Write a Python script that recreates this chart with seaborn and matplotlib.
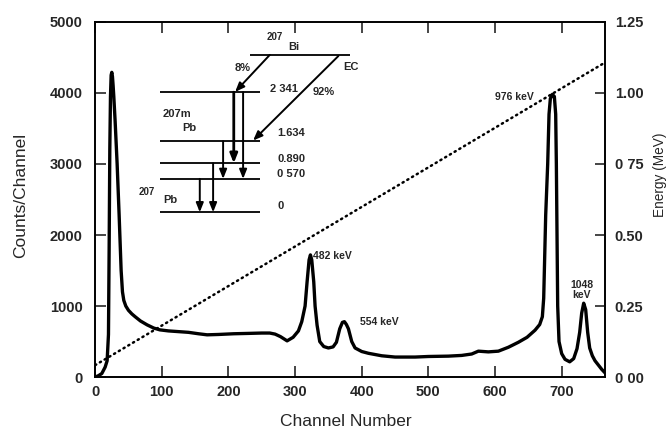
import matplotlib
matplotlib.use('Agg')
import matplotlib.pyplot as plt
import seaborn as sns

# spectrum
channel = [0, 5, 10, 15, 18, 20, 21, 22, 23, 24, 25, 26, 27, 28, 30, 33, 36, 39, 41, 43,
           46, 50, 55, 60, 68, 78, 88, 97, 110, 125, 140, 155, 168, 185, 208, 230, 250,
           262, 270, 278, 288, 297, 305, 310, 315, 318, 321, 323, 325, 328, 330, 333,
           337, 343, 350, 357, 362, 367, 371, 374, 377, 380, 385, 390, 400, 410, 430,
           450, 480, 500, 530, 550, 565, 575, 590, 605, 620, 635, 648, 660, 667, 671,
           673, 676, 679, 681, 683, 686, 689, 691, 692, 693, 694, 696, 700, 705, 712,
           718, 723, 727, 730, 733, 736, 739, 742, 746, 750, 755, 760, 765]
counts = [0, 20, 50, 140, 230, 600, 1800, 3200, 3950, 4250, 4290, 4230, 4100, 3950,
          3600, 3000, 2280, 1500, 1200, 1080, 1000, 940, 890, 850, 790, 735, 690, 665,
          650, 640, 630, 610, 595, 600, 610, 615, 620, 620, 605, 570, 510, 560, 650,
          780, 1000, 1340, 1650, 1720, 1650, 1340, 1000, 730, 500, 430, 410, 425, 490,
          680, 770, 780, 740, 680, 500, 410, 360, 335, 300, 282, 282, 290, 295, 305,
          325, 365, 355, 365, 420, 490, 560, 660, 740, 850, 1110, 2280, 3000, 3700,
          3920, 3980, 3950, 3700, 3000, 2000, 1000, 500, 330, 250, 215, 260, 400, 630,
          900, 1040, 950, 630, 410, 300, 230, 170, 110, 60]

# energy calibration (dotted line, right axis)
calib_channel = [0, 765]
calib_energy = [0.042, 1.107]

x_ticks = [0, 100, 200, 300, 400, 500, 600, 700]
count_ticks = [0, 1000, 2000, 3000, 4000, 5000]
energy_ticks = [0, 0.25, 0.5, 0.75, 1.0, 1.25]
energy_labels = ['0 00', '0.25', '0.50', '0 75', '1.00', '1.25']

peak_labels = ['482 keV', '554 keV', '976 keV', '1048\nkeV']
level_labels = ['2 341', '1.634', '0.890', '0 570', '0']

sns.set_style('ticks')
plt.rcParams['font.family'] = ['Liberation Sans', 'DejaVu Sans']

fig = plt.figure(figsize=(6.7, 4.29), dpi=100)
ax = fig.add_axes([0.142, 0.121, 0.761, 0.828])
ax2 = ax.twinx()

sns.lineplot(x=channel, y=counts, ax=ax, color='black', linewidth=2.4)
sns.lineplot(x=calib_channel, y=calib_energy, ax=ax2, color='black',
             linewidth=1.8, linestyle=(0, (0.5, 1.7)), dash_capstyle='round')

ax.set_xlim(0, 765)
ax.set_ylim(0, 5000)
ax2.set_ylim(0, 1.25)
ax.set_xticks(x_ticks)
ax.set_yticks(count_ticks)
ax2.set_yticks(energy_ticks)
ax2.set_yticklabels(energy_labels)

ax.tick_params(direction='in', length=8, width=1.2, labelsize=10.5, top=True)
ax.tick_params(axis='y', pad=9)
ax.tick_params(axis='x', pad=6)
ax2.tick_params(direction='in', length=7, width=1.2, labelsize=10.5, pad=7)
for lab in ax.get_xticklabels() + ax.get_yticklabels() + ax2.get_yticklabels():
    lab.set_fontweight('bold')
for a in (ax, ax2):
    for s in a.spines.values():
        s.set_linewidth(1.2)
        s.set_color('black')

ax.set_xlabel('Channel Number', fontsize=12.5)
ax.xaxis.set_label_coords(0.491, -0.105)
ax.set_ylabel('Counts/Channel', fontsize=12.5)
ax.yaxis.set_label_coords(-0.132, 0.51)
ax2.set_ylabel('Energy (MeV)', fontsize=9.8)
ax2.yaxis.set_label_coords(1.094, 0.569)

# peak labels
fs = 7.5
ax.text(327, 1705, peak_labels[0], fontsize=fs, va='center', ha='left', weight='bold')
ax.text(397, 775, peak_labels[1], fontsize=fs, va='center', ha='left', weight='bold')
ax.text(658, 3945, peak_labels[2], fontsize=fs, va='center', ha='right', weight='bold')
ax.text(730, 1225, peak_labels[3], fontsize=fs, va='center', ha='center',
        linespacing=1.1, weight='bold')

# decay scheme inset
level_y = [4010, 3320, 3010, 2790, 2320]
ax.hlines(level_y, 97, 247, color='black', lw=1.3)
ax.hlines(4535, 232, 382, color='black', lw=1.3)
for lab, y in zip(level_labels, [4060, 3437, 3065, 2865, 2405]):
    ax.text(273 if lab != '2 341' else 262, y, lab, fontsize=8, va='center',
            ha='left', weight='bold')


def arrow(x0, y0, x1, y1, lw=1.4):
    ax.annotate('', xy=(x1, y1), xytext=(x0, y0),
                arrowprops=dict(arrowstyle='-|>,head_length=0.55,head_width=0.22',
                                color='black', lw=lw, shrinkA=0, shrinkB=0))


arrow(262, 4535, 210, 4014)
arrow(365, 4520, 237, 3330)
arrow(208, 4010, 208, 3010, lw=2.0)
arrow(222, 4010, 222, 2790)
arrow(192, 3320, 192, 2790)
arrow(177, 3010, 177, 2320)
arrow(157, 2790, 157, 2320)

inset_kw = dict(fontsize=8, va='center', ha='left', weight='bold')
ax.text(258, 4790, '207', **{**inset_kw, 'fontsize': 7})
ax.text(290, 4650, 'Bi', **inset_kw)
ax.text(222, 4350, '8%', **{**inset_kw, 'ha': 'center'})
ax.text(372, 4366, 'EC', **inset_kw)
ax.text(327, 4014, '92%', **inset_kw)
ax.text(102, 3700, '207m', **inset_kw)
ax.text(130, 3510, 'Pb', **inset_kw)
ax.text(65, 2606, '207', **{**inset_kw, 'fontsize': 7})
ax.text(102, 2493, 'Pb', **inset_kw)

fig.savefig('out.png', dpi=100)
